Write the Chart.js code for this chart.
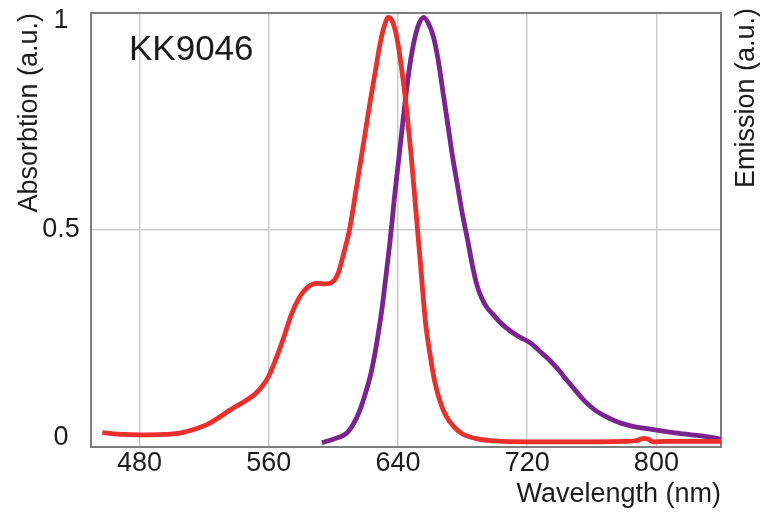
<!DOCTYPE html>
<html>
<head>
<meta charset="utf-8">
<script src="https://cdn.jsdelivr.net/npm/chart.js@4.4.1/dist/chart.umd.min.js"></script>
<style>
  html, body { margin: 0; padding: 0; background: #ffffff; }
  #wrap { width: 763px; height: 515px; }
</style>
</head>
<body>
<div id="wrap"><canvas id="c" width="763" height="515"></canvas></div>
<script>
// Absorption spectrum (normalised)
const absWavelength = [457, 470, 480, 495, 505, 515, 522, 530, 536, 545, 551, 556, 560, 565, 570, 574, 578, 582, 586, 590, 595, 599, 603, 606, 610, 614, 617, 620, 623, 626, 629, 632, 634, 636, 639, 642, 645, 648, 651, 654, 657, 660, 663, 667, 670, 675, 680, 690, 700, 720, 750, 780, 788, 792, 795, 798, 805, 820, 840];
const absValues     = [0.033, 0.029, 0.028, 0.029, 0.032, 0.042, 0.052, 0.07, 0.085, 0.105, 0.12, 0.14, 0.163, 0.208, 0.26, 0.305, 0.338, 0.36, 0.373, 0.377, 0.376, 0.379, 0.4, 0.44, 0.5, 0.59, 0.66, 0.73, 0.8, 0.865, 0.93, 0.975, 0.99, 0.985, 0.95, 0.88, 0.79, 0.68, 0.55, 0.42, 0.29, 0.21, 0.147, 0.095, 0.07, 0.045, 0.03, 0.018, 0.014, 0.012, 0.012, 0.013, 0.015, 0.02, 0.018, 0.012, 0.013, 0.013, 0.013];

// Emission spectrum (normalised)
const emWavelength = [593, 600, 608, 612, 616.5, 620, 623, 626, 628, 630, 632, 635, 638, 641, 644, 647, 650, 653, 656, 659, 662, 665, 668, 671, 674, 677, 680, 683, 686, 689, 692, 695, 699, 703, 710, 716, 722, 728, 734, 740, 745, 750, 755, 762, 771, 778, 786, 793, 800, 808, 817, 825, 831, 836, 840];
const emValues     = [0.01, 0.018, 0.031, 0.05, 0.085, 0.125, 0.165, 0.22, 0.265, 0.315, 0.375, 0.47, 0.58, 0.68, 0.78, 0.87, 0.935, 0.975, 0.99, 0.975, 0.945, 0.89, 0.815, 0.74, 0.665, 0.6, 0.535, 0.48, 0.42, 0.372, 0.342, 0.322, 0.305, 0.288, 0.266, 0.252, 0.24, 0.22, 0.2, 0.175, 0.152, 0.13, 0.108, 0.085, 0.066, 0.055, 0.047, 0.043, 0.039, 0.034, 0.03, 0.027, 0.024, 0.021, 0.018];

const xTickValues = [480, 560, 640, 720, 800];
const yTickValues = [0, 0.5, 1];
const xRange = [450, 840];
const sampleName = 'KK9046';
const xTitle = 'Wavelength (nm)';
const yLeftTitle = 'Absorbtion (a.u.)';
const yRightTitle = 'Emission (a.u.)';

const FONT = "'Liberation Sans', Arial, Helvetica, sans-serif";
const TEXT = '#1c1c1c';
const GRID = '#cdcdcd';
const FRAME = '#7d7d7d';

Chart.defaults.font.family = FONT;
Chart.defaults.color = TEXT;

const toPoints = (xs, ys) => xs.map((x, i) => ({ x: x, y: ys[i] }));

// Plot frame, drawn under the curves
const framePlugin = {
  id: 'frame',
  beforeDatasetsDraw(chart) {
    const { ctx, chartArea: a } = chart;
    ctx.save();
    ctx.strokeStyle = FRAME;
    ctx.lineWidth = 2;
    ctx.strokeRect(a.left, a.top, a.right - a.left, a.bottom - a.top);
    ctx.restore();
  }
};

// Sample name, left tick labels and the right-hand axis title
const textPlugin = {
  id: 'texts',
  afterDraw(chart) {
    const { ctx, chartArea: a } = chart;
    const yScale = chart.scales.y;
    ctx.save();
    ctx.fillStyle = TEXT;

    ctx.font = '35px ' + FONT;
    ctx.textAlign = 'left';
    ctx.textBaseline = 'alphabetic';
    ctx.fillText(sampleName, 129, 60);

    ctx.font = '27px ' + FONT;
    ctx.textAlign = 'center';
    ctx.textBaseline = 'middle';
    yTickValues.forEach(v => {
      let py = yScale.getPixelForValue(v);
      py = Math.min(Math.max(py, a.top + 8), a.bottom - 9);
      ctx.fillText(String(v), 61, py);
    });

    ctx.translate(747, 8);
    ctx.rotate(-Math.PI / 2);
    ctx.textAlign = 'right';
    ctx.textBaseline = 'middle';
    ctx.fillText(yRightTitle, 0, 0);
    ctx.restore();
  }
};

new Chart(document.getElementById('c'), {
  type: 'line',
  data: {
    datasets: [
      {
        label: 'Absorption',
        data: toPoints(absWavelength, absValues),
        borderColor: '#ec2f2b',
        borderWidth: 4.8,
        pointRadius: 0,
        cubicInterpolationMode: 'monotone',
        yAxisID: 'y'
      },
      {
        label: 'Emission',
        data: toPoints(emWavelength, emValues),
        borderColor: '#7b2390',
        borderWidth: 4.8,
        pointRadius: 0,
        cubicInterpolationMode: 'monotone',
        yAxisID: 'y2'
      }
    ]
  },
  options: {
    responsive: false,
    animation: false,
    devicePixelRatio: 1,
    layout: { padding: { top: 13, left: 0, right: 0, bottom: 0 } },
    plugins: {
      legend: { display: false },
      tooltip: { enabled: false }
    },
    scales: {
      x: {
        type: 'linear',
        min: xRange[0],
        max: xRange[1],
        afterBuildTicks: s => { s.ticks = xTickValues.map(v => ({ value: v })); },
        grid: { color: GRID, lineWidth: 1.5, drawTicks: false },
        border: { display: false },
        ticks: { font: { size: 27 }, padding: 0, maxRotation: 0, callback: v => String(v) },
        title: {
          display: true, text: xTitle, align: 'end',
          font: { size: 27 }, padding: { top: 0, bottom: 4 }
        },
        afterFit: s => { s.height = 68; s.paddingLeft = 0; s.paddingRight = 0; }
      },
      y: {
        position: 'left',
        min: 0,
        max: 1,
        afterBuildTicks: s => { s.ticks = yTickValues.map(v => ({ value: v })); },
        grid: { color: GRID, lineWidth: 1.5, drawTicks: false },
        border: { display: false },
        ticks: { display: false },
        title: {
          display: true, text: yLeftTitle, align: 'end',
          font: { size: 27 }, padding: { top: 13, bottom: 0 }
        },
        afterFit: s => { s.width = 91; s.paddingTop = 0; s.paddingBottom = 0; }
      },
      y2: {
        position: 'right',
        min: 0,
        max: 1,
        grid: { display: false },
        border: { display: false },
        ticks: { display: false },
        afterFit: s => { s.width = 42; s.paddingTop = 0; s.paddingBottom = 0; }
      }
    }
  },
  plugins: [framePlugin, textPlugin]
});
</script>
</body>
</html>
